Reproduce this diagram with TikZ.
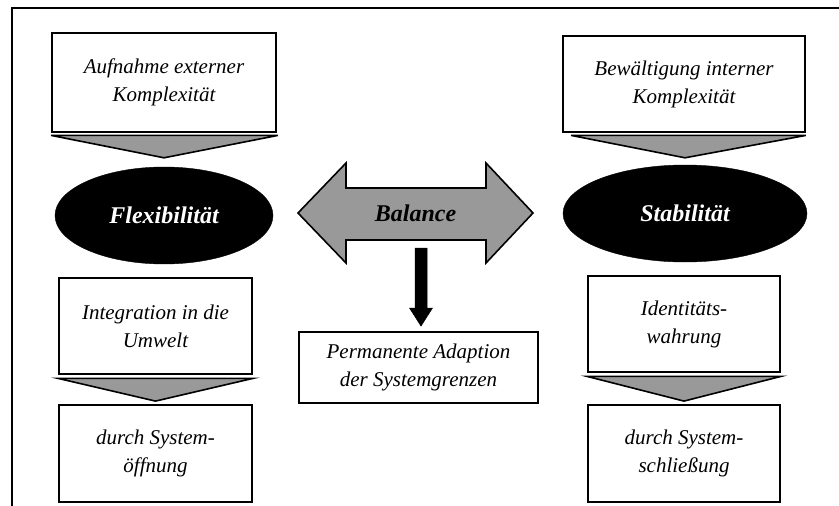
\documentclass[tikz,border=0pt]{standalone}
\usepackage{fontspec}
\setmainfont{Liberation Serif}
\usetikzlibrary{calc,shapes.geometric}
\tikzset{
  x=1pt,y=-1pt,
  textbox/.style={draw=black,line width=1.8pt,fill=white,rectangle,inner sep=0pt,
    align=center,font=\fontsize{21}{28}\selectfont\itshape},
  blackoval/.style={ellipse,fill=black,draw=black,inner sep=0pt,text=white,
    font=\fontsize{24}{28}\selectfont\bfseries\itshape},
  graytri/.style={fill=gray!80!white,draw=black,line width=1.6pt,line join=miter},
  balarrow/.style={fill=gray!80!white,draw=black,line width=1.6pt,line join=miter},
  blackarrow/.style={fill=black,draw=black,line width=0.5pt},
  frameline/.style={draw=black,line width=1.6pt}
}
\begin{document}
\begin{tikzpicture}
\useasboundingbox (0,0) rectangle (839,506);
% frame
\coordinate (fa) at (839,8);
\coordinate (fb) at (12,8);
\coordinate (fc) at (12,506);
\draw[frameline] (fa) -- (fb) -- (fc);

% left column
\node[textbox,minimum width=224pt,minimum height=99pt] (tl) at (164,82.5) {Aufnahme externer\\Komplexität};
\node[blackoval,minimum width=218pt,minimum height=97pt] (flex) at (164,215.5) {Flexibilität};
\node[textbox,minimum width=193pt,minimum height=96pt] (ml) at (155.5,326) {Integration in die\\Umwelt};
\node[textbox,minimum width=193pt,minimum height=97pt] (bl) at (155.5,453.5) {durch System-\\öffnung};

% right column
\node[textbox,minimum width=242pt,minimum height=96pt] (tr) at (684,84) {Bewältigung interner\\Komplexität};
\node[blackoval,minimum width=244pt,minimum height=97pt] (stab) at (685,213.5) {Stabilität};
\node[textbox,minimum width=192pt,minimum height=96pt] (mr) at (684,324) {Identitäts-\\wahrung};
\node[textbox,minimum width=192pt,minimum height=97pt] (br) at (684,453.5) {durch System-\\schließung};

% triangles
\draw[graytri] ($(tl.south west)+(0,2.5)$) -- ($(tl.south east)+(1,2.5)$) -- ($(flex.north)+(0,-9)$) -- cycle;
\draw[graytri] ($(tr.south west)+(9,2.5)$) -- ($(tr.south east)+(0,2.5)$) -- ($(stab.north)+(0,-7)$) -- cycle;
\draw[graytri] ($(ml.south west)+(0,3.5)$) -- ($(ml.south east)+(0,3.5)$) -- ($(bl.north)+(0,-3)$) -- cycle;
\draw[graytri] ($(mr.south west)+(0,3.5)$) -- ($(mr.south east)+(0,3.5)$) -- ($(br.north)+(0,-3)$) -- cycle;

% balance arrow
\coordinate (bc) at (415.5,213);
\draw[balarrow] ($(bc)+(-117.5,0)$) -- ($(bc)+(-69.5,-50)$) -- ($(bc)+(-69.5,-25)$)
  -- ($(bc)+(70.5,-25)$) -- ($(bc)+(70.5,-50)$) -- ($(bc)+(117.5,0)$)
  -- ($(bc)+(70.5,50)$) -- ($(bc)+(70.5,27)$) -- ($(bc)+(-69.5,27)$)
  -- ($(bc)+(-69.5,50)$) -- cycle;
\node[font=\fontsize{24}{28}\selectfont\bfseries\itshape,inner sep=0pt] (bal) at (bc) {Balance};

% permanent box
\node[textbox,minimum width=239pt,minimum height=71pt] (perm) at (418.5,367.5) {Permanente Adaption\\der Systemgrenzen};

% down arrow
\coordinate (ds) at (421,248);
\draw[blackarrow] ($(ds)+(-6,0)$) -- ($(ds)+(6,0)$) -- ($(ds)+(6,60)$) -- ($(ds)+(11.5,60)$)
  -- ($(perm.north)+(2.5,-5)$) -- ($(ds)+(-11.5,60)$) -- ($(ds)+(-6,60)$) -- cycle;
\end{tikzpicture}
\end{document}
